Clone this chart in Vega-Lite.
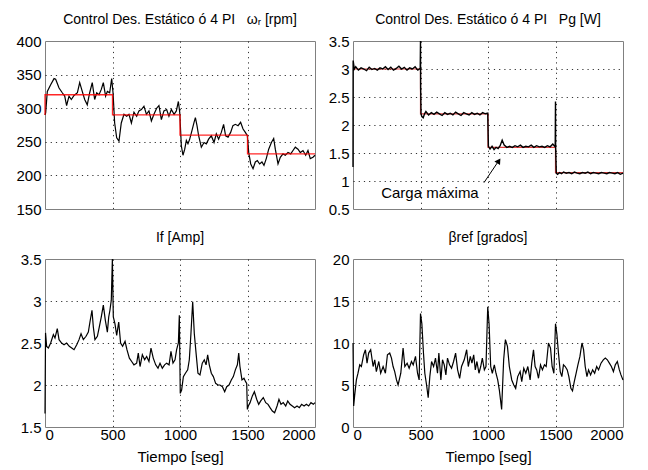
{
"$schema": "https://vega.github.io/schema/vega-lite/v6.json",
"padding": {"left": 15, "top": 12, "right": 5, "bottom": 0},
"background": "white",
"spacing": 12,
"config": {
 "view": {"stroke": "#808080", "strokeWidth": 1},
 "axis": {"grid": true, "gridColor": "#000", "gridDash": [1.2, 4], "gridOpacity": {"condition": {"test": "datum.value == 0 || datum.value == 2000", "value": 0}, "value": 0.8}, "domain": false, "ticks": false, "labelFont": "Liberation Sans", "labelFontSize": 15, "labelColor": "#000", "titleFont": "Liberation Sans", "titleFontSize": 15, "titleFontWeight": "normal", "titleColor": "#000", "labelPadding": 4},
 "axisX": {"labelPadding": 0},
 "axisY": {"minExtent": 28, "maxExtent": 28},
 "title": {"font": "Liberation Sans", "fontSize": 14, "fontWeight": "normal", "color": "#000", "offset": 7},
 "line": {"color": "#000", "strokeWidth": 1.2}
},
"datasets": {
 "wr": [{"t":0,"v":290},{"t":5,"v":293},{"t":17,"v":325},{"t":42,"v":335},{"t":67,"v":344},{"t":79,"v":343},{"t":104,"v":330},{"t":128,"v":323},{"t":146,"v":318},{"t":160,"v":304},{"t":178,"v":318},{"t":195,"v":313},{"t":215,"v":319},{"t":240,"v":323},{"t":257,"v":338},{"t":276,"v":325},{"t":294,"v":313},{"t":313,"v":305},{"t":331,"v":323},{"t":350,"v":338},{"t":368,"v":313},{"t":383,"v":323},{"t":400,"v":320},{"t":417,"v":328},{"t":432,"v":338},{"t":449,"v":318},{"t":462,"v":325},{"t":479,"v":323},{"t":494,"v":344},{"t":504,"v":323},{"t":516,"v":278},{"t":531,"v":256},{"t":548,"v":251},{"t":565,"v":278},{"t":585,"v":291},{"t":605,"v":288},{"t":622,"v":291},{"t":640,"v":278},{"t":659,"v":294},{"t":679,"v":288},{"t":696,"v":296},{"t":714,"v":298},{"t":733,"v":303},{"t":751,"v":291},{"t":770,"v":296},{"t":788,"v":281},{"t":807,"v":291},{"t":827,"v":300},{"t":844,"v":304},{"t":862,"v":283},{"t":881,"v":296},{"t":901,"v":298},{"t":918,"v":288},{"t":936,"v":298},{"t":956,"v":291},{"t":973,"v":296},{"t":988,"v":310},{"t":998,"v":294},{"t":1010,"v":244},{"t":1022,"v":230},{"t":1035,"v":239},{"t":1047,"v":252},{"t":1059,"v":247},{"t":1072,"v":254},{"t":1089,"v":267},{"t":1104,"v":279},{"t":1114,"v":286},{"t":1126,"v":274},{"t":1138,"v":259},{"t":1158,"v":242},{"t":1178,"v":249},{"t":1195,"v":247},{"t":1212,"v":254},{"t":1232,"v":259},{"t":1252,"v":249},{"t":1269,"v":262},{"t":1286,"v":254},{"t":1306,"v":264},{"t":1323,"v":276},{"t":1338,"v":259},{"t":1356,"v":257},{"t":1375,"v":264},{"t":1392,"v":274},{"t":1410,"v":276},{"t":1430,"v":274},{"t":1449,"v":279},{"t":1467,"v":269},{"t":1484,"v":264},{"t":1499,"v":259},{"t":1509,"v":234},{"t":1524,"v":217},{"t":1541,"v":210},{"t":1558,"v":220},{"t":1573,"v":222},{"t":1590,"v":217},{"t":1607,"v":220},{"t":1622,"v":215},{"t":1639,"v":225},{"t":1657,"v":239},{"t":1677,"v":249},{"t":1694,"v":255},{"t":1706,"v":239},{"t":1726,"v":217},{"t":1743,"v":227},{"t":1763,"v":232},{"t":1780,"v":230},{"t":1800,"v":234},{"t":1820,"v":232},{"t":1837,"v":237},{"t":1854,"v":242},{"t":1874,"v":239},{"t":1891,"v":234},{"t":1911,"v":237},{"t":1931,"v":230},{"t":1948,"v":237},{"t":1965,"v":225},{"t":1985,"v":227},{"t":2000,"v":230}],
 "wr_ref": [{"t":0,"v":290},{"t":0,"v":320},{"t":500,"v":320},{"t":500,"v":290},{"t":1000,"v":290},{"t":1000,"v":260},{"t":1500,"v":260},{"t":1500,"v":232},{"t":2000,"v":232}],
 "pg": [{"t":0,"v":1.25},{"t":1,"v":3.15},{"t":10,"v":3.0},{"t":20,"v":3.04},{"t":40,"v":2.98},{"t":60,"v":3.02},{"t":80,"v":3.0},{"t":100,"v":2.97},{"t":120,"v":3.03},{"t":140,"v":2.99},{"t":160,"v":3.01},{"t":180,"v":2.98},{"t":200,"v":3.02},{"t":220,"v":3.0},{"t":240,"v":3.04},{"t":260,"v":2.99},{"t":280,"v":3.03},{"t":300,"v":2.98},{"t":320,"v":3.01},{"t":340,"v":3.05},{"t":360,"v":3.0},{"t":380,"v":3.03},{"t":400,"v":2.98},{"t":420,"v":3.02},{"t":440,"v":3.0},{"t":460,"v":3.04},{"t":480,"v":2.98},{"t":498,"v":3.01},{"t":500,"v":3.5},{"t":501,"v":2.65},{"t":504,"v":2.2},{"t":510,"v":2.15},{"t":520,"v":2.13},{"t":530,"v":2.2},{"t":540,"v":2.24},{"t":560,"v":2.18},{"t":580,"v":2.22},{"t":600,"v":2.19},{"t":620,"v":2.23},{"t":640,"v":2.2},{"t":660,"v":2.17},{"t":680,"v":2.22},{"t":700,"v":2.19},{"t":720,"v":2.21},{"t":740,"v":2.18},{"t":760,"v":2.23},{"t":780,"v":2.2},{"t":800,"v":2.17},{"t":820,"v":2.22},{"t":840,"v":2.2},{"t":860,"v":2.18},{"t":880,"v":2.22},{"t":900,"v":2.19},{"t":920,"v":2.21},{"t":940,"v":2.18},{"t":960,"v":2.22},{"t":980,"v":2.2},{"t":998,"v":2.21},{"t":1003,"v":1.62},{"t":1015,"v":1.57},{"t":1030,"v":1.62},{"t":1045,"v":1.56},{"t":1060,"v":1.6},{"t":1075,"v":1.58},{"t":1090,"v":1.63},{"t":1105,"v":1.73},{"t":1120,"v":1.64},{"t":1140,"v":1.6},{"t":1160,"v":1.62},{"t":1180,"v":1.6},{"t":1200,"v":1.63},{"t":1220,"v":1.61},{"t":1240,"v":1.64},{"t":1260,"v":1.6},{"t":1280,"v":1.62},{"t":1300,"v":1.61},{"t":1320,"v":1.64},{"t":1340,"v":1.6},{"t":1360,"v":1.63},{"t":1380,"v":1.61},{"t":1400,"v":1.62},{"t":1420,"v":1.6},{"t":1440,"v":1.63},{"t":1460,"v":1.61},{"t":1480,"v":1.66},{"t":1498,"v":1.61},{"t":1500,"v":2.42},{"t":1501,"v":1.6},{"t":1506,"v":1.14},{"t":1515,"v":1.12},{"t":1530,"v":1.15},{"t":1545,"v":1.13},{"t":1560,"v":1.16},{"t":1580,"v":1.14},{"t":1600,"v":1.15},{"t":1620,"v":1.13},{"t":1640,"v":1.16},{"t":1660,"v":1.14},{"t":1680,"v":1.13},{"t":1700,"v":1.15},{"t":1720,"v":1.14},{"t":1740,"v":1.16},{"t":1760,"v":1.13},{"t":1780,"v":1.15},{"t":1800,"v":1.14},{"t":1820,"v":1.13},{"t":1840,"v":1.15},{"t":1860,"v":1.14},{"t":1880,"v":1.13},{"t":1900,"v":1.15},{"t":1920,"v":1.14},{"t":1940,"v":1.13},{"t":1960,"v":1.15},{"t":1980,"v":1.12},{"t":2000,"v":1.14}],
 "pg_ref": [{"t":0,"v":3.0},{"t":500,"v":3.0},{"t":500,"v":2.2},{"t":1000,"v":2.2},{"t":1000,"v":1.6},{"t":1500,"v":1.6},{"t":1500,"v":1.15},{"t":2000,"v":1.15}],
 "arrow": [{"t":970,"v":0.97},{"t":1082,"v":1.37}],
 "arrowhead": [{"t":1080,"v":1.36}],
 "note": [{"t":570,"v":0.79,"label":"Carga máxima"}],
 "ifa": [{"t":0,"v":1.66},{"t":4,"v":2.62},{"t":12,"v":2.46},{"t":25,"v":2.44},{"t":42,"v":2.5},{"t":62,"v":2.6},{"t":74,"v":2.56},{"t":91,"v":2.67},{"t":104,"v":2.54},{"t":123,"v":2.5},{"t":141,"v":2.48},{"t":160,"v":2.5},{"t":180,"v":2.46},{"t":198,"v":2.44},{"t":215,"v":2.42},{"t":235,"v":2.48},{"t":252,"v":2.54},{"t":267,"v":2.61},{"t":284,"v":2.54},{"t":304,"v":2.58},{"t":321,"v":2.63},{"t":333,"v":2.75},{"t":348,"v":2.89},{"t":358,"v":2.69},{"t":370,"v":2.54},{"t":388,"v":2.58},{"t":402,"v":2.69},{"t":417,"v":2.81},{"t":432,"v":2.95},{"t":447,"v":2.77},{"t":462,"v":2.63},{"t":472,"v":2.81},{"t":481,"v":2.89},{"t":491,"v":3.01},{"t":499,"v":3.5},{"t":506,"v":2.81},{"t":518,"v":2.73},{"t":531,"v":2.59},{"t":546,"v":2.75},{"t":560,"v":2.5},{"t":575,"v":2.46},{"t":593,"v":2.52},{"t":607,"v":2.42},{"t":625,"v":2.32},{"t":642,"v":2.28},{"t":659,"v":2.24},{"t":679,"v":2.26},{"t":691,"v":2.38},{"t":704,"v":2.22},{"t":721,"v":2.36},{"t":738,"v":2.3},{"t":753,"v":2.34},{"t":770,"v":2.28},{"t":785,"v":2.44},{"t":802,"v":2.32},{"t":820,"v":2.24},{"t":837,"v":2.2},{"t":852,"v":2.26},{"t":869,"v":2.2},{"t":886,"v":2.24},{"t":901,"v":2.26},{"t":919,"v":2.24},{"t":933,"v":2.4},{"t":948,"v":2.26},{"t":963,"v":2.3},{"t":975,"v":2.42},{"t":988,"v":2.5},{"t":995,"v":2.83},{"t":1002,"v":1.9},{"t":1012,"v":1.94},{"t":1025,"v":2.1},{"t":1040,"v":2.14},{"t":1057,"v":2.18},{"t":1069,"v":2.3},{"t":1081,"v":2.61},{"t":1094,"v":2.99},{"t":1106,"v":2.61},{"t":1119,"v":2.38},{"t":1133,"v":2.14},{"t":1148,"v":2.12},{"t":1165,"v":2.26},{"t":1180,"v":2.3},{"t":1193,"v":2.24},{"t":1205,"v":2.36},{"t":1217,"v":2.24},{"t":1232,"v":2.14},{"t":1247,"v":2.1},{"t":1264,"v":2.02},{"t":1281,"v":2.0},{"t":1296,"v":2.0},{"t":1314,"v":1.98},{"t":1331,"v":1.92},{"t":1346,"v":1.98},{"t":1363,"v":2.0},{"t":1380,"v":2.06},{"t":1395,"v":2.1},{"t":1410,"v":2.18},{"t":1425,"v":2.24},{"t":1435,"v":2.38},{"t":1444,"v":2.22},{"t":1459,"v":2.06},{"t":1474,"v":2.08},{"t":1486,"v":2.04},{"t":1494,"v":2.02},{"t":1499,"v":1.71},{"t":1506,"v":1.75},{"t":1519,"v":1.79},{"t":1536,"v":1.87},{"t":1551,"v":1.92},{"t":1568,"v":1.83},{"t":1583,"v":1.77},{"t":1598,"v":1.81},{"t":1617,"v":1.85},{"t":1635,"v":1.79},{"t":1652,"v":1.77},{"t":1667,"v":1.73},{"t":1684,"v":1.69},{"t":1701,"v":1.67},{"t":1719,"v":1.75},{"t":1733,"v":1.83},{"t":1748,"v":1.77},{"t":1765,"v":1.79},{"t":1783,"v":1.75},{"t":1798,"v":1.81},{"t":1815,"v":1.77},{"t":1832,"v":1.75},{"t":1849,"v":1.73},{"t":1867,"v":1.75},{"t":1884,"v":1.73},{"t":1901,"v":1.77},{"t":1919,"v":1.75},{"t":1936,"v":1.77},{"t":1953,"v":1.75},{"t":1970,"v":1.79},{"t":1988,"v":1.77},{"t":2000,"v":1.79}],
 "beta": [{"t":0,"v":10},{"t":5,"v":2.5},{"t":12,"v":3.7},{"t":25,"v":5.6},{"t":37,"v":6.4},{"t":50,"v":7.4},{"t":62,"v":7.2},{"t":79,"v":8.6},{"t":92,"v":9.2},{"t":104,"v":7.6},{"t":116,"v":8.8},{"t":131,"v":9.2},{"t":149,"v":7.2},{"t":161,"v":8.0},{"t":173,"v":6.6},{"t":191,"v":7.8},{"t":205,"v":6.4},{"t":223,"v":7.2},{"t":240,"v":6.4},{"t":255,"v":8.6},{"t":272,"v":8.8},{"t":285,"v":8.2},{"t":297,"v":7.2},{"t":309,"v":6.6},{"t":322,"v":5.6},{"t":334,"v":5.0},{"t":354,"v":6.4},{"t":371,"v":9.4},{"t":384,"v":7.2},{"t":401,"v":7.6},{"t":416,"v":7.0},{"t":433,"v":7.8},{"t":446,"v":7.4},{"t":463,"v":8.4},{"t":478,"v":6.4},{"t":490,"v":5.6},{"t":500,"v":13.5},{"t":510,"v":12.3},{"t":522,"v":8.8},{"t":532,"v":6.4},{"t":545,"v":5.0},{"t":557,"v":3.5},{"t":569,"v":6.0},{"t":582,"v":7.8},{"t":597,"v":7.2},{"t":611,"v":8.2},{"t":626,"v":6.4},{"t":636,"v":8.8},{"t":651,"v":5.6},{"t":663,"v":8.0},{"t":676,"v":7.4},{"t":688,"v":6.2},{"t":700,"v":8.2},{"t":715,"v":7.4},{"t":730,"v":7.0},{"t":745,"v":7.8},{"t":760,"v":8.8},{"t":775,"v":6.8},{"t":790,"v":5.8},{"t":804,"v":7.2},{"t":824,"v":8.0},{"t":842,"v":9.2},{"t":854,"v":7.2},{"t":869,"v":8.4},{"t":881,"v":7.6},{"t":894,"v":8.6},{"t":906,"v":6.8},{"t":918,"v":7.8},{"t":933,"v":6.4},{"t":946,"v":7.2},{"t":958,"v":8.2},{"t":973,"v":6.8},{"t":985,"v":7.2},{"t":998,"v":14.3},{"t":1008,"v":12.3},{"t":1020,"v":7.2},{"t":1032,"v":6.4},{"t":1047,"v":7.4},{"t":1059,"v":6.4},{"t":1072,"v":5.6},{"t":1084,"v":4.4},{"t":1101,"v":2.1},{"t":1116,"v":8.0},{"t":1129,"v":10.4},{"t":1144,"v":9.6},{"t":1158,"v":7.2},{"t":1176,"v":5.6},{"t":1191,"v":5.0},{"t":1205,"v":4.6},{"t":1220,"v":6.0},{"t":1238,"v":6.6},{"t":1250,"v":5.4},{"t":1265,"v":7.0},{"t":1280,"v":6.4},{"t":1295,"v":7.2},{"t":1312,"v":5.6},{"t":1324,"v":7.6},{"t":1337,"v":9.2},{"t":1349,"v":7.2},{"t":1361,"v":6.8},{"t":1374,"v":5.8},{"t":1389,"v":7.4},{"t":1403,"v":6.8},{"t":1418,"v":7.4},{"t":1431,"v":7.2},{"t":1448,"v":10.0},{"t":1463,"v":9.4},{"t":1475,"v":7.2},{"t":1488,"v":6.4},{"t":1500,"v":12.3},{"t":1510,"v":11.1},{"t":1522,"v":8.8},{"t":1535,"v":6.6},{"t":1547,"v":6.0},{"t":1559,"v":7.4},{"t":1572,"v":7.2},{"t":1587,"v":6.8},{"t":1599,"v":6.0},{"t":1614,"v":4.6},{"t":1626,"v":4.3},{"t":1639,"v":5.4},{"t":1653,"v":6.4},{"t":1666,"v":7.4},{"t":1681,"v":8.4},{"t":1696,"v":10.0},{"t":1708,"v":9.2},{"t":1720,"v":7.2},{"t":1733,"v":6.0},{"t":1745,"v":6.8},{"t":1760,"v":6.2},{"t":1775,"v":6.8},{"t":1790,"v":6.4},{"t":1805,"v":7.2},{"t":1819,"v":6.8},{"t":1837,"v":7.6},{"t":1854,"v":8.0},{"t":1869,"v":8.2},{"t":1884,"v":8.0},{"t":1899,"v":7.6},{"t":1914,"v":7.2},{"t":1929,"v":6.6},{"t":1943,"v":7.4},{"t":1958,"v":7.8},{"t":1973,"v":6.8},{"t":1985,"v":6.2},{"t":2000,"v":5.6}]
},
"vconcat": [
 {"spacing": 38, "bounds": "flush", "hconcat": [
  {"width": 270, "height": 168,
   "title": "Control Des. Estático ó 4 PI\u00a0\u00a0\u00a0ωᵣ [rpm]",
   "encoding": {
    "x": {"field": "t", "type": "quantitative", "scale": {"domain": [0, 2000], "nice": false}, "axis": {"values": [0, 500, 1000, 1500, 2000], "labels": false, "title": null}},
    "y": {"field": "v", "type": "quantitative", "scale": {"domain": [150, 400], "nice": false, "zero": false}, "axis": {"values": [150, 200, 250, 300, 350, 400], "title": null, "gridOpacity": {"condition": {"test": "datum.value == 150 || datum.value == 400", "value": 0}, "value": 0.8}}}
   },
   "layer": [
    {"data": {"name": "wr"}, "mark": {"type": "line"}},
    {"data": {"name": "wr_ref"}, "mark": {"type": "line", "color": "#ff0000", "strokeWidth": 1.3, "opacity": 0.85}}
   ]},
  {"width": 270, "height": 168,
   "title": "Control Des. Estático ó 4 PI\u00a0\u00a0\u00a0Pg [W]",
   "encoding": {
    "x": {"field": "t", "type": "quantitative", "scale": {"domain": [0, 2000], "nice": false}, "axis": {"values": [0, 500, 1000, 1500, 2000], "labels": false, "title": null}},
    "y": {"field": "v", "type": "quantitative", "scale": {"domain": [0.5, 3.5], "nice": false, "zero": false}, "axis": {"values": [0.5, 1, 1.5, 2, 2.5, 3, 3.5], "format": "~g", "title": null, "gridOpacity": {"condition": {"test": "datum.value == 0.5 || datum.value == 3.5", "value": 0}, "value": 0.8}}}
   },
   "layer": [
    {"data": {"name": "pg_ref"}, "mark": {"type": "line", "color": "#e04040", "strokeWidth": 1.2}},
    {"data": {"name": "pg"}, "mark": {"type": "line", "strokeWidth": 1.4}},
    {"data": {"name": "arrow"}, "mark": {"type": "line", "strokeWidth": 1}},
    {"data": {"name": "arrowhead"}, "mark": {"type": "point", "shape": "triangle-up", "angle": 33, "size": 45, "filled": true, "color": "#000", "opacity": 1}},
    {"data": {"name": "note"}, "mark": {"type": "text", "font": "Liberation Sans", "fontSize": 15, "color": "#000"}, "encoding": {"text": {"field": "label"}}}
   ]}
 ]},
 {"spacing": 38, "bounds": "flush", "hconcat": [
  {"width": 270, "height": 168,
   "title": "If [Amp]",
   "data": {"name": "ifa"},
   "mark": {"type": "line"},
   "encoding": {
    "x": {"field": "t", "type": "quantitative", "scale": {"domain": [0, 2000], "nice": false}, "axis": {"values": [0, 500, 1000, 1500, 2000], "format": "d", "title": "Tiempo [seg]", "titlePadding": 7}},
    "y": {"field": "v", "type": "quantitative", "scale": {"domain": [1.5, 3.5], "nice": false, "zero": false}, "axis": {"values": [1.5, 2, 2.5, 3, 3.5], "format": "~g", "title": null, "gridOpacity": {"condition": {"test": "datum.value == 1.5 || datum.value == 3.5", "value": 0}, "value": 0.8}}}
   }},
  {"width": 270, "height": 168,
   "title": "βref [grados]",
   "data": {"name": "beta"},
   "mark": {"type": "line"},
   "encoding": {
    "x": {"field": "t", "type": "quantitative", "scale": {"domain": [0, 2000], "nice": false}, "axis": {"values": [0, 500, 1000, 1500, 2000], "format": "d", "title": "Tiempo [seg]", "titlePadding": 7}},
    "y": {"field": "v", "type": "quantitative", "scale": {"domain": [0, 20], "nice": false}, "axis": {"values": [0, 5, 10, 15, 20], "title": null, "gridOpacity": {"condition": {"test": "datum.value == 0 || datum.value == 20", "value": 0}, "value": 0.8}}}
   }}
 ]}
]
}
